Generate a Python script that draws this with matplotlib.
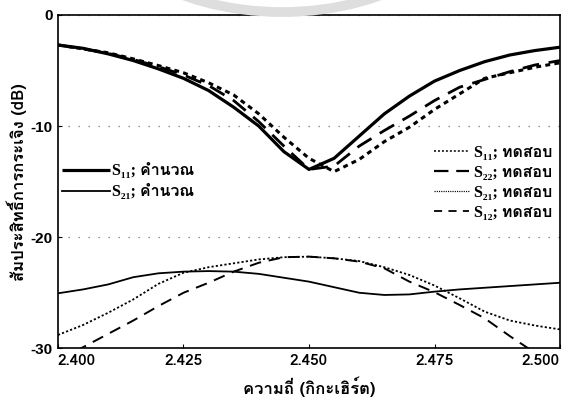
import matplotlib
matplotlib.use('Agg')
import matplotlib.pyplot as plt
from matplotlib import font_manager
from matplotlib.ft2font import FT2Font
from matplotlib.patches import Ellipse
from matplotlib.lines import Line2D

# frequency (GHz) and S-parameters (dB)
freq = [2.400, 2.405, 2.410, 2.415, 2.420, 2.425, 2.430, 2.435, 2.440, 2.445, 2.450,
        2.455, 2.460, 2.465, 2.470, 2.475, 2.480, 2.485, 2.490, 2.495, 2.500]

s11_calc = [-2.7, -3.0, -3.5, -4.1, -4.85, -5.7, -6.8, -8.3, -10.0, -12.3, -13.9,
            -12.9, -10.9, -8.9, -7.3, -5.95, -5.0, -4.2, -3.6, -3.2, -2.9]
s21_calc = [-25.05, -24.7, -24.25, -23.6, -23.25, -23.1, -23.05, -23.1, -23.3, -23.65, -24.0,
            -24.5, -25.0, -25.2, -25.15, -24.9, -24.7, -24.55, -24.4, -24.25, -24.1]
s11_meas = [-2.7, -3.05, -3.4, -3.95, -4.55, -5.2, -6.1, -7.2, -8.9, -11.0, -12.9,
            -14.1, -13.0, -11.4, -10.1, -8.5, -7.1, -5.7, -5.2, -4.7, -4.3]
s22_meas = [-2.7, -3.05, -3.45, -4.0, -4.65, -5.4, -6.35, -7.7, -9.6, -11.8, -13.9,
            -13.6, -11.8, -10.4, -9.1, -7.7, -6.5, -5.8, -5.1, -4.5, -4.1]
s21_meas = [-28.8, -27.9, -26.8, -25.6, -24.2, -23.2, -22.7, -22.35, -22.0, -21.8, -21.75,
            -21.9, -22.15, -22.7, -23.4, -24.35, -25.5, -26.7, -27.5, -27.95, -28.3]
s12_meas = [-31.0, -29.9, -28.7, -27.5, -26.2, -25.0, -24.1, -23.1, -22.3, -21.8, -21.75,
            -21.9, -22.2, -22.8, -24.0, -24.95, -26.1, -27.3, -28.9, -30.4, -31.5]

xticks = [2.400, 2.425, 2.450, 2.475, 2.500]
yticks = [0, -10, -20, -30]
calc_labels = ['S₁₁; คำนวณ', 'S₂₁; คำนวณ']
meas_labels = ['S₁₁; ทดสอบ', 'S₂₂; ทดสอบ', 'S₂₁; ทดสอบ', 'S₁₂; ทดสอบ']


def thai_fonts():
    # look for any installed family that has Thai glyphs
    names = []
    for fe in font_manager.fontManager.ttflist:
        try:
            cmap = FT2Font(fe.fname).get_charmap()
        except Exception:
            continue
        if 0x0E01 in cmap and 0x0E33 in cmap and fe.name not in names:
            names.append(fe.name)
    return names


thai = thai_fonts()[:1]
serif = ['Liberation Serif'] + thai + ['DejaVu Sans']
sans = ['Liberation Sans'] + thai + ['DejaVu Sans']
thai_first = thai + ['Liberation Sans', 'DejaVu Sans']

fig = plt.figure(figsize=(5.64, 4.01), dpi=100)
# faint watermark arc above the plot
fig.patches.append(Ellipse((0.50, 1.30), 0.72, 0.66, transform=fig.transFigure,
                           fill=False, ec='#dedede', lw=7, zorder=0))
ax = fig.add_axes([58 / 564, 1 - 348.3 / 401, 502 / 564, 333.3 / 401])

c1, = ax.plot(freq, s11_calc, color='black', lw=2.3, solid_capstyle='butt')
c2, = ax.plot(freq, s21_calc, color='black', lw=1.3)
ax.plot(freq, s11_meas, color='black', lw=2.2, dashes=(1.6, 1.4))
ax.plot(freq, s22_meas, color='black', lw=2.0, dashes=(6, 3.5))
ax.plot(freq, s21_meas, color='black', lw=1.3, dashes=(1.2, 1.2))
ax.plot(freq, s12_meas, color='black', lw=1.4, dashes=(6, 4))

ax.set_xlim(2.4, 2.5)
ax.set_ylim(-30, 0)
ax.set_xticks(xticks)
ax.set_xticklabels(['%.3f' % v for v in xticks], fontsize=11, family=thai_first,
                   fontweight='bold')
ax.set_yticks(yticks)
ax.set_yticklabels([str(v) for v in yticks], fontsize=11, family=sans, fontweight='bold')
labs = ax.get_xticklabels()
labs[0].set_ha('left')
labs[-1].set_ha('right')
ax.tick_params(direction='in', length=3, width=0.8, pad=4)
ax.grid(axis='y', color='#707070', lw=0.9, linestyle=(0, (1, 7)))
for s in ax.spines.values():
    s.set_linewidth(1.2)

ax.set_xlabel('ความถี่ (กิกะเฮิร์ต)', fontsize=12, family=thai_first, fontweight='bold')
ax.xaxis.set_label_coords(0.5, -0.085)
ax.set_ylabel('สัมประสิทธิ์การกระเจิง (dB)', fontsize=12, family=thai_first,
              fontweight='bold')
ax.yaxis.set_label_coords(-0.062, 0.5)

prop = font_manager.FontProperties(family=serif, weight='bold', size=11.5)
leg1 = ax.legend([c1, c2], calc_labels, loc='upper left', bbox_to_anchor=(0.008, 0.555),
                 frameon=False, prop=prop, handlelength=3.0, handletextpad=0.15,
                 labelspacing=0.3, borderpad=0, borderaxespad=0)
ax.add_artist(leg1)
# legend keys are drawn thinner than the curves in the original
keys = [Line2D([], [], color='black', lw=1.1, dashes=(1.3, 1.3)),
        Line2D([], [], color='black', lw=1.6, dashes=(6.5, 3.5)),
        Line2D([], [], color='black', lw=0.9, dashes=(0.9, 0.9)),
        Line2D([], [], color='black', lw=1.3, dashes=(4.5, 3.5))]
ax.legend(keys, meas_labels, loc='upper right', bbox_to_anchor=(0.984, 0.61),
          frameon=False, prop=prop, handlelength=2.2, handletextpad=0.3,
          labelspacing=0.25, borderpad=0, borderaxespad=0)

fig.savefig('out.png', dpi=100)
